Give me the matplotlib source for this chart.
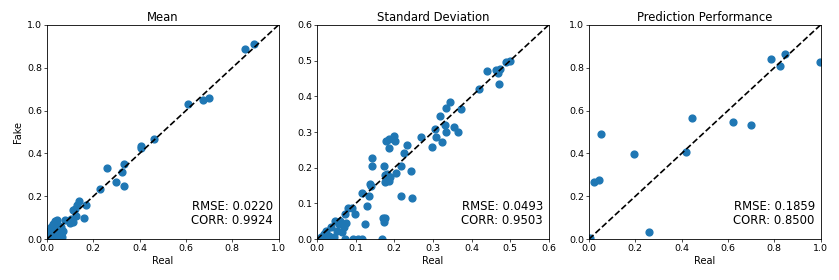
import matplotlib
matplotlib.use('Agg')
import matplotlib.pyplot as plt

# Mean panel
mean_real = [0.856, 0.896, 0.607, 0.672, 0.700, 0.462, 0.405, 0.405, 0.258, 0.332,
             0.325, 0.297, 0.332, 0.227, 0.167, 0.160, 0.139, 0.128, 0.120, 0.113,
             0.127, 0.105, 0.098, 0.079, 0.113,
             0.033, 0.045, 0.019, 0.033, 0.055, 0.062, 0.066, 0.048, 0.026, 0.012,
             0.004, 0.040, 0.019, 0.048, 0.026, 0.059, 0.069, 0.062, 0.040, 0.019,
             0.050, 0.010, 0.030, 0.008]
mean_fake = [0.889, 0.911, 0.629, 0.648, 0.659, 0.469, 0.435, 0.425, 0.333, 0.350,
             0.313, 0.266, 0.249, 0.232, 0.157, 0.100, 0.178, 0.159, 0.142, 0.134,
             0.106, 0.095, 0.075, 0.090, 0.080,
             0.084, 0.090, 0.056, 0.040, 0.040, 0.025, 0.009, 0.009, 0.006, 0.006,
             0.003, 0.025, 0.025, 0.064, 0.072, 0.056, 0.040, 0.000, 0.000, 0.000,
             0.030, 0.040, 0.060, 0.015]

# Standard deviation panel
std_real = [0.499, 0.490, 0.473, 0.463, 0.439, 0.469, 0.471, 0.420, 0.373, 0.345,
            0.334, 0.319, 0.332, 0.354, 0.365, 0.335, 0.305, 0.308, 0.323, 0.297,
            0.270, 0.233, 0.225, 0.218, 0.242, 0.205, 0.218, 0.246, 0.199, 0.203,
            0.186, 0.178, 0.185, 0.142, 0.143, 0.173, 0.181, 0.190, 0.177, 0.186,
            0.177, 0.136, 0.140, 0.135, 0.117, 0.128, 0.125, 0.171, 0.177, 0.173,
            0.091, 0.080, 0.098, 0.073, 0.074, 0.060, 0.046, 0.035, 0.052, 0.069,
            0.022, 0.017, 0.030, 0.043, 0.056, 0.065,
            0.073, 0.092, 0.105, 0.117, 0.168, 0.010, 0.025, 0.040]
std_fake = [0.499, 0.495, 0.476, 0.473, 0.472, 0.464, 0.434, 0.421, 0.364, 0.383,
            0.368, 0.346, 0.321, 0.313, 0.301, 0.301, 0.308, 0.286, 0.271, 0.258,
            0.287, 0.263, 0.240, 0.205, 0.191, 0.186, 0.122, 0.116, 0.289, 0.274,
            0.281, 0.274, 0.254, 0.227, 0.205, 0.204, 0.183, 0.174, 0.160, 0.164,
            0.179, 0.153, 0.148, 0.120, 0.129, 0.093, 0.041, 0.058, 0.060, 0.049,
            0.088, 0.086, 0.071, 0.071, 0.045, 0.052, 0.050, 0.034, 0.024, 0.034,
            0.024, 0.015, 0.010, 0.007, 0.043, 0.020,
            0.000, 0.000, 0.000, 0.000, 0.000, 0.005, 0.000, 0.000]

# Prediction performance panel
pred_real = [0.003, 0.020, 0.042, 0.053, 0.195, 0.259, 0.418, 0.447, 0.620, 0.699,
             0.785, 0.824, 0.847, 0.997]
pred_fake = [0.003, 0.269, 0.277, 0.489, 0.399, 0.034, 0.407, 0.565, 0.547, 0.533,
             0.843, 0.810, 0.866, 0.827]

panels = [
    ('Mean', mean_real, mean_fake, 1.0, [0.0, 0.2, 0.4, 0.6, 0.8, 1.0], 'RMSE: 0.0220\nCORR: 0.9924'),
    ('Standard Deviation', std_real, std_fake, 0.6, [0.0, 0.1, 0.2, 0.3, 0.4, 0.5, 0.6], 'RMSE: 0.0493\nCORR: 0.9503'),
    ('Prediction Performance', pred_real, pred_fake, 1.0, [0.0, 0.2, 0.4, 0.6, 0.8, 1.0], 'RMSE: 0.1859\nCORR: 0.8500'),
]

fig = plt.figure(figsize=(8.39, 2.8), dpi=100)
lefts = [0.056, 0.378, 0.702]

for i, (title, x, y, lim, ticks, stats) in enumerate(panels):
    ax = fig.add_axes([lefts[i], 0.146, 0.276, 0.765])
    ax.scatter(x, y, s=24, color='#1f77b4', zorder=2)
    ax.plot([0, lim], [0, lim], 'k--', lw=1.2, zorder=3)
    ax.set_xlim(0, lim)
    ax.set_ylim(0, lim)
    ax.set_xticks(ticks)
    ax.set_yticks(ticks)
    ax.tick_params(labelsize=6.8, length=2, width=0.5, pad=1.5)
    for sp in ax.spines.values():
        sp.set_linewidth(0.6)
    ax.set_title(title, fontsize=8.4, pad=3)
    ax.set_xlabel('Real', fontsize=7, labelpad=2)
    if i == 0:
        ax.set_ylabel('Fake', fontsize=7, labelpad=3)
    ax.text(0.975, 0.055, stats, transform=ax.transAxes, ha='right', va='bottom',
            fontsize=8.4, linespacing=1.1)

fig.savefig('out.png', dpi=100)
